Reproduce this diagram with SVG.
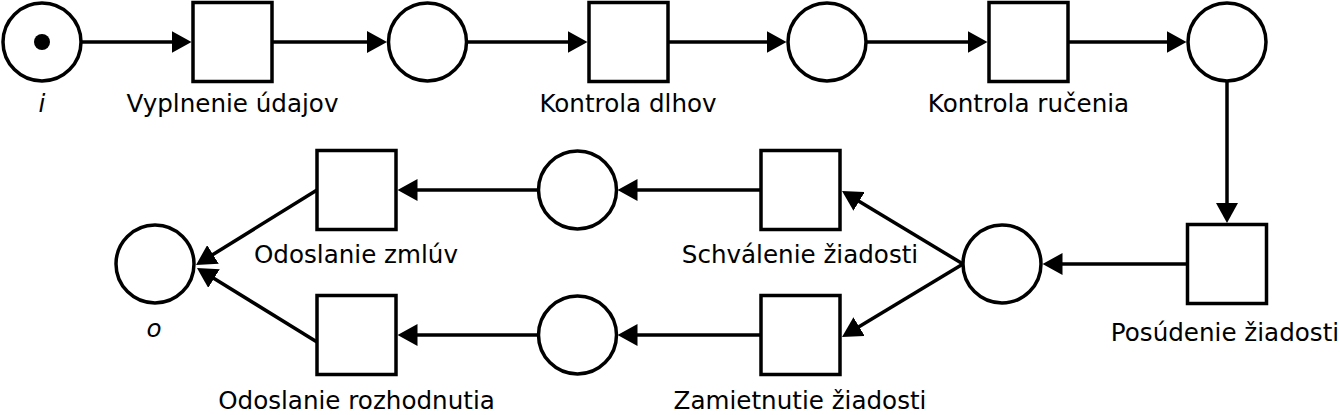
<svg xmlns="http://www.w3.org/2000/svg" width="1340" height="415" viewBox="0 0 1340 415">
<style>
.pl{fill:#fff;stroke:#000;stroke-width:3.5}
.tr{fill:#fff;stroke:#000;stroke-width:3.5}
.lb{font-family:"DejaVu Sans","Liberation Sans",sans-serif;font-size:24.6px;fill:#000;text-anchor:middle}
.it{font-style:italic}
.ar{fill:none;stroke:#000;stroke-width:3.5;marker-end:url(#ah)}
</style>
<defs>
<marker id="ah" markerUnits="userSpaceOnUse" markerWidth="20" markerHeight="22" refX="8" refY="11" orient="auto" viewBox="0 0 20 22">
<path d="M0,0 L20,11 L0,22 z" fill="#000"/>
</marker>
</defs>
<rect width="1340" height="415" fill="#fff"/>
<g id="connectors">
<line class="ar" x1="81" y1="42" x2="179.5" y2="42"/>
<line class="ar" x1="272" y1="42" x2="375" y2="42"/>
<line class="ar" x1="467" y1="42" x2="575.5" y2="42"/>
<line class="ar" x1="668" y1="42" x2="774.5" y2="42"/>
<line class="ar" x1="866" y1="42" x2="975.5" y2="42"/>
<line class="ar" x1="1068" y1="42" x2="1174.5" y2="42"/>
<line class="ar" x1="1227" y1="81" x2="1227" y2="211"/>
<line class="ar" x1="1187.5" y1="264" x2="1054.5" y2="264"/>
<line class="ar" x1="963" y1="264" x2="852.3" y2="197.2"/>
<line class="ar" x1="963" y1="264" x2="852.3" y2="330.8"/>
<line class="ar" x1="761" y1="190" x2="629.5" y2="190"/>
<line class="ar" x1="761" y1="335" x2="629.5" y2="335"/>
<line class="ar" x1="538" y1="190" x2="409.5" y2="190"/>
<line class="ar" x1="538" y1="335" x2="409.5" y2="335"/>
<line class="ar" x1="317" y1="190" x2="206.2" y2="258.7"/>
<line class="ar" x1="317" y1="342" x2="207.2" y2="274.3"/>
</g>
<g id="p_i"><circle class="pl" cx="42" cy="42" r="39"/><circle cx="42" cy="42" r="8" fill="#000"/><text class="lb it" x="42" y="112">i</text></g>
<g id="t_vyplnenie"><rect class="tr" x="193" y="2.5" width="79" height="79"/><text class="lb" x="232.5" y="112">Vyplnenie údajov</text></g>
<g id="p2"><circle class="pl" cx="427.5" cy="42" r="39"/></g>
<g id="t_kontrola_dlhov"><rect class="tr" x="589" y="2.5" width="79" height="79"/><text class="lb" x="628" y="112">Kontrola dlhov</text></g>
<g id="p3"><circle class="pl" cx="827" cy="42" r="39"/></g>
<g id="t_kontrola_rucenia"><rect class="tr" x="989" y="2.5" width="79" height="79"/><text class="lb" x="1028.5" y="112">Kontrola ručenia</text></g>
<g id="p4"><circle class="pl" cx="1227" cy="42" r="39"/></g>
<g id="t_posudenie"><rect class="tr" x="1187.5" y="224.5" width="79" height="79"/><text class="lb" x="1225" y="341">Posúdenie žiadosti</text></g>
<g id="p5"><circle class="pl" cx="1002" cy="264" r="39"/></g>
<g id="t_schvalenie"><rect class="tr" x="761" y="150.5" width="79" height="79"/><text class="lb" x="800" y="263">Schválenie žiadosti</text></g>
<g id="t_zamietnutie"><rect class="tr" x="761" y="295.5" width="79" height="79"/><text class="lb" x="800" y="409">Zamietnutie žiadosti</text></g>
<g id="p6"><circle class="pl" cx="577.5" cy="190" r="39"/></g>
<g id="p7"><circle class="pl" cx="577.5" cy="335" r="39"/></g>
<g id="t_odoslanie_zmluv"><rect class="tr" x="317" y="150.5" width="79" height="79"/><text class="lb" x="356" y="263">Odoslanie zmlúv</text></g>
<g id="t_odoslanie_rozhodnutia"><rect class="tr" x="317" y="295.5" width="79" height="79"/><text class="lb" x="356.5" y="409">Odoslanie rozhodnutia</text></g>
<g id="p_o"><circle class="pl" cx="155" cy="264" r="39"/><text class="lb it" x="154" y="337">o</text></g>
</svg>
